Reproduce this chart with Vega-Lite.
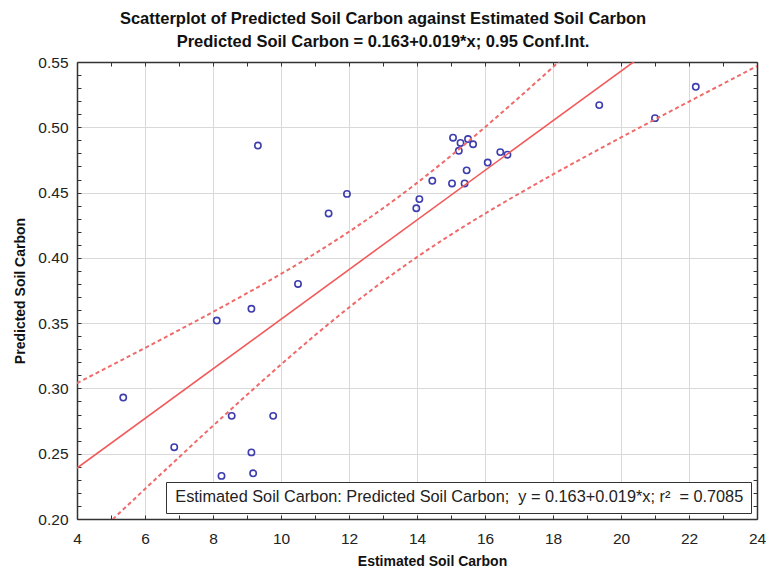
{
  "$schema": "https://vega.github.io/schema/vega-lite/v6.json",
  "width": 680,
  "height": 457,
  "autosize": "none",
  "padding": {"left": 77, "top": 62, "right": 9, "bottom": 52},
  "background": "white",
  "title": {
    "text": ["Scatterplot of Predicted Soil Carbon against Estimated Soil Carbon", "Predicted Soil Carbon = 0.163+0.019*x; 0.95 Conf.Int."],
    "font": "Liberation Sans",
    "fontSize": 16.5,
    "fontWeight": "bold",
    "color": "#111111",
    "anchor": "middle",
    "dx": -34,
    "offset": 5,
    "lineHeight": 23
  },
  "config": {
    "view": {"stroke": null},
    "axis": {
      "labelFont": "Liberation Sans",
      "labelFontSize": 15.5,
      "labelColor": "#222222",
      "titleFont": "Liberation Sans",
      "titleFontSize": 14,
      "titleFontWeight": "bold",
      "titleColor": "#111111",
      "domainColor": "#333333",
      "domainWidth": 1.5,
      "tickColor": "#333333",
      "tickWidth": 1,
      "gridColor": "#d9d9d9",
      "gridWidth": 1
    },
    "legend": {
      "orient": "bottom-right",
      "offset": 6,
      "strokeColor": "#333333",
      "fillColor": "white",
      "padding": 7,
      "symbolType": "circle",
      "symbolSize": 0,
      "symbolStrokeWidth": 0,
      "labelOffset": -14,
      "labelFont": "Liberation Sans",
      "labelFontSize": 16.3,
      "labelColor": "#222222",
      "labelLimit": 0
    }
  },
  "datasets": {
    "points": [
      {"est": 5.36, "pred": 0.293},
      {"est": 6.86, "pred": 0.255},
      {"est": 8.11, "pred": 0.352},
      {"est": 8.25, "pred": 0.233},
      {"est": 8.55, "pred": 0.279},
      {"est": 9.13, "pred": 0.251},
      {"est": 9.18, "pred": 0.235},
      {"est": 9.13, "pred": 0.361},
      {"est": 9.32, "pred": 0.486},
      {"est": 9.77, "pred": 0.279},
      {"est": 10.5, "pred": 0.38},
      {"est": 11.4, "pred": 0.434},
      {"est": 11.94, "pred": 0.449},
      {"est": 13.98, "pred": 0.438},
      {"est": 14.07, "pred": 0.445},
      {"est": 14.45, "pred": 0.459},
      {"est": 15.03, "pred": 0.457},
      {"est": 15.06, "pred": 0.492},
      {"est": 15.23, "pred": 0.482},
      {"est": 15.28, "pred": 0.488},
      {"est": 15.4, "pred": 0.457},
      {"est": 15.46, "pred": 0.467},
      {"est": 15.5, "pred": 0.491},
      {"est": 15.65, "pred": 0.487},
      {"est": 16.08, "pred": 0.473},
      {"est": 16.45, "pred": 0.481},
      {"est": 16.66, "pred": 0.479},
      {"est": 19.36, "pred": 0.517},
      {"est": 21.0, "pred": 0.507},
      {"est": 22.2, "pred": 0.531}
    ],
    "fit": [
      {"est": 4, "pred": 0.239, "series": "Estimated Soil Carbon: Predicted Soil Carbon;\u00a0 y = 0.163+0.019*x; r²\u00a0 = 0.7085"},
      {"est": 24, "pred": 0.619, "series": "Estimated Soil Carbon: Predicted Soil Carbon;\u00a0 y = 0.163+0.019*x; r²\u00a0 = 0.7085"}
    ],
    "band": [
      {"est": 4, "lower": 0.174, "upper": 0.304},
      {"est": 5, "lower": 0.1985, "upper": 0.3175},
      {"est": 6, "lower": 0.223, "upper": 0.331},
      {"est": 7, "lower": 0.2473, "upper": 0.3447},
      {"est": 8, "lower": 0.2714, "upper": 0.3586},
      {"est": 9, "lower": 0.2951, "upper": 0.3729},
      {"est": 10, "lower": 0.3183, "upper": 0.3877},
      {"est": 11, "lower": 0.3407, "upper": 0.4033},
      {"est": 12, "lower": 0.362, "upper": 0.42},
      {"est": 13, "lower": 0.382, "upper": 0.438},
      {"est": 14, "lower": 0.4006, "upper": 0.4574},
      {"est": 15, "lower": 0.4178, "upper": 0.4782},
      {"est": 16, "lower": 0.4339, "upper": 0.5001},
      {"est": 17, "lower": 0.4492, "upper": 0.5228},
      {"est": 18, "lower": 0.4639, "upper": 0.5461},
      {"est": 19, "lower": 0.4782, "upper": 0.5698},
      {"est": 20, "lower": 0.4922, "upper": 0.5938},
      {"est": 21, "lower": 0.506, "upper": 0.618},
      {"est": 22, "lower": 0.5197, "upper": 0.6423},
      {"est": 23, "lower": 0.5333, "upper": 0.6667},
      {"est": 24, "lower": 0.5469, "upper": 0.6911}
    ]
  },
  "resolve": {"axis": {"x": "independent", "y": "independent"}},
  "layer": [
    {
      "data": {"name": "points"},
      "mark": {"type": "point", "shape": "circle", "filled": false, "stroke": "#3d3dae", "strokeWidth": 1.6, "size": 40, "opacity": 1, "clip": true},
      "encoding": {
        "x": {
          "field": "est", "type": "quantitative",
          "scale": {"domain": [4, 24], "nice": false, "zero": false},
          "axis": {
            "orient": "bottom",
            "title": "Estimated Soil Carbon",
            "titleX": 355,
            "titlePadding": 8,
            "values": [4,5,6,7,8,9,10,11,12,13,14,15,16,17,18,19,20,21,22,23,24],
            "labelExpr": "datum.value % 2 === 0 ? datum.label : ''",
            "gridOpacity": {"condition": {"test": "datum.value % 2 === 0", "value": 1}, "value": 0},
            "tickSize": -4,
            "labelPadding": 16,
            "labelFlush": false
          }
        },
        "y": {
          "field": "pred", "type": "quantitative",
          "scale": {"domain": [0.2, 0.55], "nice": false, "zero": false},
          "axis": {
            "orient": "left",
            "title": "Predicted Soil Carbon",
            "titlePadding": 10,
            "values": [0.2,0.21,0.22,0.23,0.24,0.25,0.26,0.27,0.28,0.29,0.3,0.31,0.32,0.33,0.34,0.35,0.36,0.37,0.38,0.39,0.4,0.41,0.42,0.43,0.44,0.45,0.46,0.47,0.48,0.49,0.5,0.51,0.52,0.53,0.54,0.55],
            "labelExpr": "round(datum.value * 100) % 5 === 0 ? format(datum.value, '.2f') : ''",
            "gridOpacity": {"condition": {"test": "round(datum.value * 100) % 5 === 0", "value": 1}, "value": 0},
            "tickSize": -4,
            "labelPadding": 13,
            "labelFlush": false
          }
        }
      }
    },
    {
      "data": {"name": "band"},
      "mark": {"type": "line", "stroke": "#f06a6a", "strokeWidth": 2, "strokeDash": [4, 3], "interpolate": "monotone", "clip": true},
      "encoding": {
        "x": {
          "field": "est", "type": "quantitative",
          "axis": {
            "orient": "top", "title": null, "labels": false, "grid": false,
            "values": [4,5,6,7,8,9,10,11,12,13,14,15,16,17,18,19,20,21,22,23,24],
            "tickSize": -4
          }
        },
        "y": {
          "field": "upper", "type": "quantitative",
          "axis": {
            "orient": "right", "title": null, "labels": false, "grid": false,
            "values": [0.2,0.21,0.22,0.23,0.24,0.25,0.26,0.27,0.28,0.29,0.3,0.31,0.32,0.33,0.34,0.35,0.36,0.37,0.38,0.39,0.4,0.41,0.42,0.43,0.44,0.45,0.46,0.47,0.48,0.49,0.5,0.51,0.52,0.53,0.54,0.55],
            "tickSize": -4
          }
        }
      }
    },
    {
      "data": {"name": "band"},
      "mark": {"type": "line", "stroke": "#f06a6a", "strokeWidth": 2, "strokeDash": [4, 3], "interpolate": "monotone", "clip": true},
      "encoding": {
        "x": {"field": "est", "type": "quantitative", "axis": null},
        "y": {"field": "lower", "type": "quantitative", "axis": null}
      }
    },
    {
      "data": {"name": "fit"},
      "mark": {"type": "line", "strokeWidth": 1.6, "clip": true},
      "encoding": {
        "x": {"field": "est", "type": "quantitative", "axis": null},
        "y": {"field": "pred", "type": "quantitative", "axis": null},
        "color": {"field": "series", "type": "nominal", "scale": {"range": ["#f25a5a"]}, "legend": {"title": null, "symbolType": "circle"}}
      }
    }
  ]
}
